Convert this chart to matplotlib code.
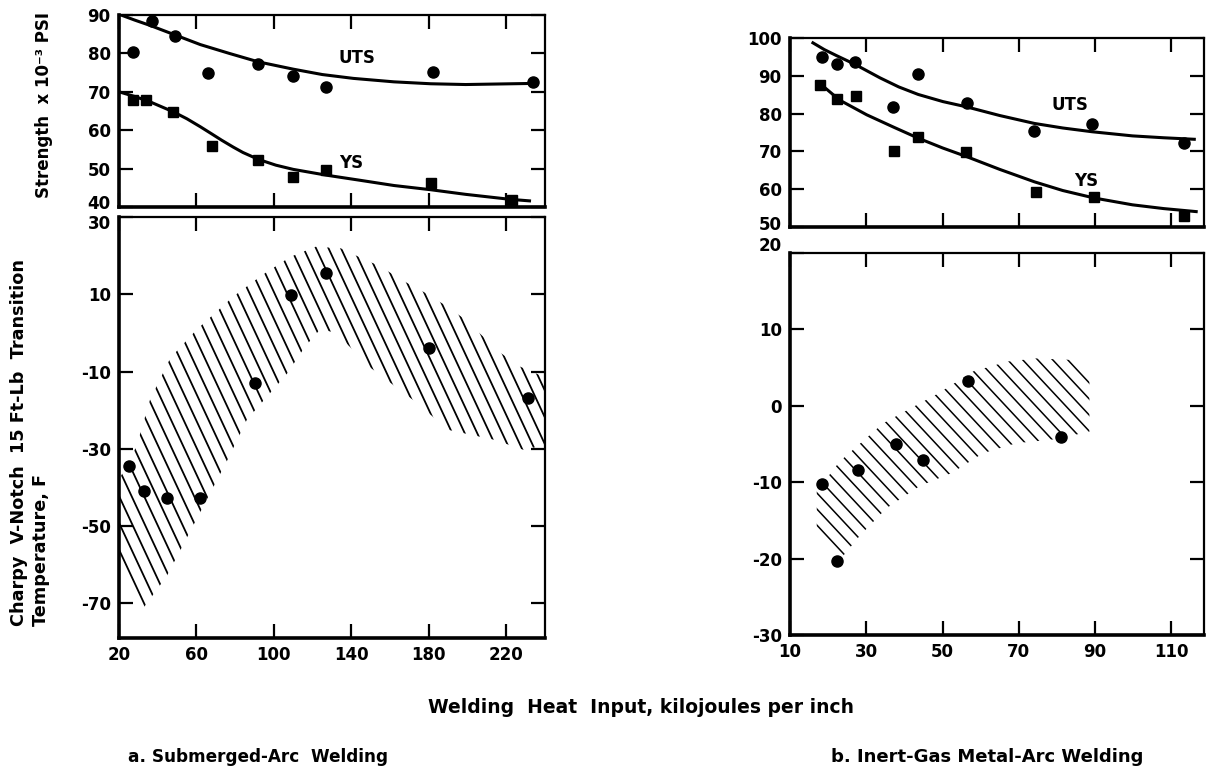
import numpy as np
import matplotlib.pyplot as plt
import matplotlib.transforms as mtransforms
from matplotlib.patches import Polygon

plt.rcParams['font.family'] = ['DejaVu Sans']
plt.rcParams['font.weight'] = 'bold'
plt.rcParams['axes.unicode_minus'] = False

# a. Submerged-arc welding: strength
sa_uts_x = [27, 37, 49, 66, 92, 110, 127, 182, 234]
sa_uts_y = [80.4, 88.5, 84.6, 75.0, 77.2, 74.0, 71.3, 75.2, 72.6]
sa_ys_x = [27, 34, 48, 68, 92, 110, 127, 181, 223]
sa_ys_y = [68.0, 68.0, 64.8, 56.0, 52.2, 47.7, 49.6, 46.3, 41.8]
sa_uts_fit_x = [20, 28, 36, 49, 62, 77, 92, 110, 125, 141, 162, 181, 199, 235]
sa_uts_fit_y = [90.2, 88.7, 87.3, 84.8, 82.3, 80.0, 77.8, 75.9, 74.5, 73.5, 72.6, 72.1, 71.9, 72.2]
sa_ys_fit_x = [20, 28, 36, 48, 55, 62, 68, 73, 79, 84, 92, 101, 110, 127, 144, 162, 181, 199, 222, 232]
sa_ys_fit_y = [70.0, 68.8, 67.4, 64.8, 63.0, 60.9, 59.0, 57.4, 55.6, 54.2, 52.4, 50.9, 49.8, 48.3, 47.0, 45.6, 44.5, 43.3, 42.0, 41.6]

# a. Submerged-arc welding: Charpy transition temperature
sa_cvn_x = [25, 33, 45, 62, 90, 109, 127, 180, 231]
sa_cvn_y = [-34.5, -41, -42.7, -42.7, -13, 9.8, 15.6, -3.8, -16.9]
sa_band_hi_x = [20, 29, 36, 46.5, 60, 79, 94, 108.5, 121.5, 134.5, 145.5, 155, 166, 177, 188, 199, 216, 227, 240]
sa_band_hi_y = [-38, -29.4, -17.3, -6.5, 0.8, 9.4, 15, 19.7, 22.3, 21.9, 19.3, 17.2, 13.7, 10.7, 7.3, 3.4, -4.8, -8.7, -11.5]
sa_band_lo_x = [20, 26, 32.6, 44.6, 58.5, 76, 86, 107, 116, 124, 132, 140, 148, 173, 190, 214, 229, 240]
sa_band_lo_y = [-58, -66, -71.2, -63, -49.7, -32.9, -22.5, -10.4, -3.6, 1, 0, -4, -8.3, -17.8, -25.1, -27.7, -30.3, -29]

# b. Inert-gas metal-arc welding: strength
ig_uts_x = [18.3, 22.2, 27.0, 37.0, 43.6, 56.3, 74.1, 89.2, 113.4]
ig_uts_y = [95.1, 93.3, 93.7, 81.7, 90.5, 82.7, 75.5, 77.2, 72.3]
ig_ys_x = [17.9, 22.2, 27.2, 37.2, 43.6, 56.1, 74.4, 89.8, 113.4]
ig_ys_y = [87.7, 83.8, 84.7, 70.1, 73.9, 69.7, 59.1, 57.9, 52.9]
ig_uts_fit_x = [16, 19, 22.2, 27, 33.6, 38.5, 43.6, 50.1, 56.3, 65, 74.1, 81.5, 89.2, 99.8, 108, 116]
ig_uts_fit_y = [98.8, 97.0, 95.4, 93.1, 89.5, 87.1, 85.1, 83.2, 81.8, 79.5, 77.4, 76.2, 75.2, 74.1, 73.6, 73.2]
ig_ys_fit_x = [18.3, 23, 30.1, 37.2, 43.6, 50, 56.3, 65, 74.1, 81.5, 89.8, 99.8, 108, 116.5]
ig_ys_fit_y = [87.6, 83.6, 79.7, 76.4, 73.5, 70.9, 68.6, 65.2, 61.9, 59.6, 57.6, 55.8, 54.8, 54.0]

# b. Inert-gas metal-arc welding: Charpy transition temperature
ig_cvn_x = [18.5, 22.2, 27.9, 37.7, 44.9, 56.7, 81.1]
ig_cvn_y = [-10.2, -20.3, -8.4, -5.0, -7.1, 3.2, -4.1]
ig_band_hi_x = [17, 23, 34.4, 43.2, 48.8, 58, 67.2, 74.6, 84, 88.5]
ig_band_hi_y = [-11.2, -7.3, -2.3, 0.1, 1.6, 4.5, 5.8, 6.2, 6.0, 4.5]
ig_band_lo_x = [17, 22.5, 28.3, 35.3, 44, 52.4, 60.6, 69.3, 79, 88.5]
ig_band_lo_y = [-17, -20.5, -17, -13.4, -10.5, -8.8, -6.2, -4.9, -4.4, -3.4]

fig = plt.figure(figsize=(12.06, 7.71), dpi=100)


def style_axes(ax, xticks, yticks, show_x=True):
    ax.set_xticks(xticks)
    ax.set_yticks(yticks)
    ax.tick_params(direction='in', length=10, width=1.6, top=True, right=True,
                   labelsize=12, pad=6, labelbottom=show_x)
    for side in ['left', 'bottom']:
        ax.spines[side].set_linewidth(2.6)
    for side in ['top', 'right']:
        ax.spines[side].set_linewidth(1.6)


def nudge_ylabel(ax, idx, dy_px):
    # shift one y tick label up (+) or down (-) by some pixels
    lab = ax.yaxis.get_major_ticks()[idx].label1
    off = mtransforms.ScaledTranslation(0, dy_px / fig.dpi, fig.dpi_scale_trans)
    lab.set_transform(lab.get_transform() + off)


def hatch_band(ax, hx, hy, lx, ly, angle, step, lw):
    pts = np.column_stack([np.r_[hx, lx[::-1]], np.r_[hy, ly[::-1]]])
    band = Polygon(pts, closed=True, fill=False, edgecolor='none')
    ax.add_patch(band)
    pos = ax.get_position()
    w = pos.width * fig.get_figwidth() * fig.dpi
    h = pos.height * fig.get_figheight() * fig.dpi
    run = h / (w * np.tan(np.radians(angle)))
    for x0 in np.arange(-run - 0.05, 1.05, step / w):
        ln, = ax.plot([x0, x0 + run], [1, 0], transform=ax.transAxes,
                      color='black', lw=lw)
        ln.set_clip_path(band)


# left panels
ax1 = fig.add_axes([0.0987, 0.7315, 0.3532, 0.249])
ax1.plot(sa_uts_fit_x, sa_uts_fit_y, color='black', lw=2.2)
ax1.plot(sa_ys_fit_x, sa_ys_fit_y, color='black', lw=2.2)
ax1.plot(sa_uts_x, sa_uts_y, 'o', color='black', ms=8)
ax1.plot(sa_ys_x, sa_ys_y, 's', color='black', ms=7.5)
ax1.text(143, 78.8, 'UTS', fontsize=12, ha='center', va='center')
ax1.text(140, 51.5, 'YS', fontsize=12, ha='center', va='center')
ax1.set_xlim(20, 240)
ax1.set_ylim(40, 90)
style_axes(ax1, [20, 60, 100, 140, 180, 220], [40, 50, 60, 70, 80, 90], show_x=False)
nudge_ylabel(ax1, 0, 5)

ax2 = fig.add_axes([0.0987, 0.1725, 0.3532, 0.546])
ax2.set_xlim(20, 240)
ax2.set_ylim(-79, 30)
hatch_band(ax2, sa_band_hi_x, sa_band_hi_y, sa_band_lo_x, sa_band_lo_y, 65, 12.5, 1.3)
ax2.plot(sa_cvn_x, sa_cvn_y, 'o', color='black', ms=8, zorder=5)
style_axes(ax2, [20, 60, 100, 140, 180, 220], [-70, -50, -30, -10, 10, 30])
nudge_ylabel(ax2, -1, -5)

# right panels
ax3 = fig.add_axes([0.6551, 0.7060, 0.3434, 0.2443])
ax3.plot(ig_uts_fit_x, ig_uts_fit_y, color='black', lw=2.2)
ax3.plot(ig_ys_fit_x, ig_ys_fit_y, color='black', lw=2.2)
ax3.plot(ig_uts_x, ig_uts_y, 'o', color='black', ms=8)
ax3.plot(ig_ys_x, ig_ys_y, 's', color='black', ms=7.5)
ax3.text(83.3, 82.3, 'UTS', fontsize=12, ha='center', va='center')
ax3.text(87.7, 62, 'YS', fontsize=12, ha='center', va='center')
ax3.set_xlim(10, 118.6)
ax3.set_ylim(50, 100)
style_axes(ax3, [10, 30, 50, 70, 90, 110], [50, 60, 70, 80, 90, 100], show_x=False)
nudge_ylabel(ax3, 0, 4)

ax4 = fig.add_axes([0.6551, 0.1764, 0.3434, 0.4955])
ax4.set_xlim(10, 118.6)
ax4.set_ylim(-30, 20)
hatch_band(ax4, ig_band_hi_x, ig_band_hi_y, ig_band_lo_x, ig_band_lo_y, 47, 15, 1.1)
ax4.plot(ig_cvn_x, ig_cvn_y, 'o', color='black', ms=8, zorder=5)
style_axes(ax4, [10, 30, 50, 70, 90, 110], [-30, -20, -10, 0, 10, 20])
nudge_ylabel(ax4, -1, 9)

# labels
fig.text(0.0365, 0.864, 'Strength  x 10⁻³ PSI', rotation=90, ha='center', va='center', fontsize=12)
fig.text(0.0158, 0.188, 'Charpy  V-Notch  15 Ft-Lb  Transition', rotation=90,
         ha='center', va='bottom', fontsize=12.7)
fig.text(0.034, 0.188, 'Temperature, F', rotation=90, ha='center', va='bottom', fontsize=12.7)
fig.text(0.5315, 0.083, 'Welding  Heat  Input, kilojoules per inch', ha='center', va='center', fontsize=13.5)
fig.text(0.106, 0.018, 'a. Submerged-Arc  Welding', ha='left', va='center', fontsize=12.2)
fig.text(0.689, 0.018, 'b. Inert-Gas Metal-Arc Welding', ha='left', va='center', fontsize=13)

fig.savefig('out.png', dpi=100)
